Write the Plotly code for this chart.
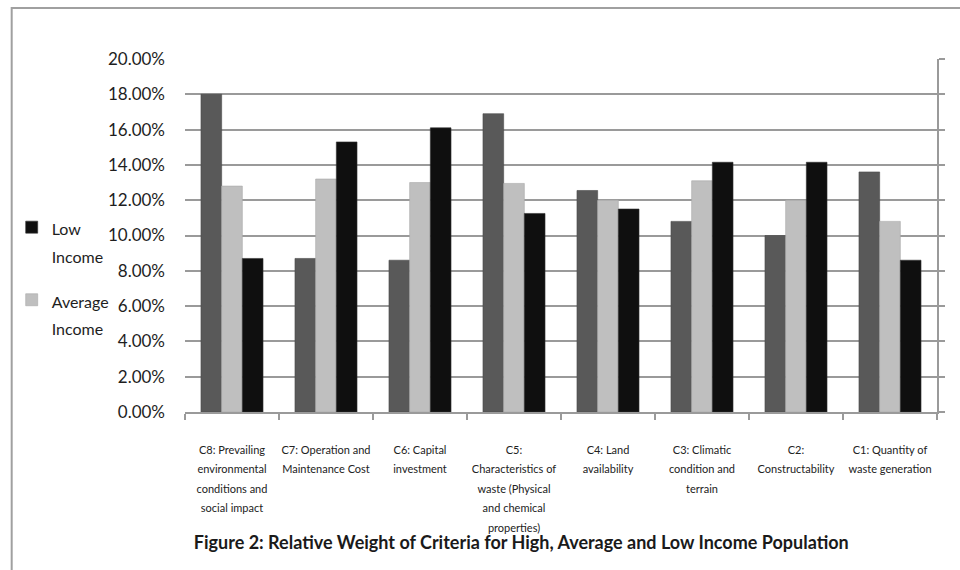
import plotly.graph_objects as go

categories = ["C8", "C7", "C6", "C5", "C4", "C3", "C2", "C1"]
tick_lines = [
    ["C8: Prevailing", "environmental", "conditions and", "social impact"],
    ["C7: Operation and", "Maintenance Cost"],
    ["C6: Capital", "investment"],
    ["C5:", "Characteristics of", "waste (Physical", "and chemical", "properties)"],
    ["C4: Land", "availability"],
    ["C3: Climatic", "condition and", "terrain"],
    ["C2:", "Constructability"],
    ["C1: Quantity of", "waste generation"],
]
legend_lines = {"low": ["Low", "Income"], "average": ["Average", "Income"]}
high_income = [0.180, 0.087, 0.086, 0.169, 0.1255, 0.108, 0.100, 0.136]
average_income = [0.128, 0.132, 0.130, 0.1295, 0.120, 0.131, 0.120, 0.108]
low_income = [0.087, 0.153, 0.161, 0.1125, 0.115, 0.1415, 0.1415, 0.086]

FONT = "Lato, sans-serif"
GRID = "#9a9a9a"


def spanned(lines, px):
    return "<br>".join("<span style='font-size:%spx'>%s</span>" % (px, s) for s in lines)


tick_labels = [spanned(lines, 11) for lines in tick_lines]

fig = go.Figure()
fig.add_trace(go.Bar(x=categories, y=high_income, name="High Income",
                     marker=dict(color="#595959", line=dict(color="#4a4a4a", width=0.6)),
                     showlegend=False))
fig.add_trace(go.Bar(x=categories, y=average_income, name=spanned(legend_lines["average"], 16),
                     marker=dict(color="#bfbfbf", line=dict(color="#a8a8a8", width=0.6)),
                     legendgroup="b", legendrank=2))
fig.add_trace(go.Bar(x=categories, y=low_income, name=spanned(legend_lines["low"], 16),
                     marker=dict(color="#0f0f0f", line=dict(color="#303030", width=0.6)),
                     legendgroup="a", legendrank=1))
fig.add_trace(go.Scatter(x=[], y=[], yaxis="y2", showlegend=False, hoverinfo="skip"))

fig.update_layout(
    width=960, height=570,
    margin=dict(l=182, r=23, t=59, b=158),
    paper_bgcolor="white", plot_bgcolor="white",
    barmode="group", bargap=0.34, bargroupgap=0,
    font=dict(family=FONT, color="#1e1e1e"),
    title=dict(text="<b>Figure 2: Relative Weight of Criteria for High, Average and Low Income Population</b>",
               x=0.543, xanchor="center", y=1 - 543 / 570, yanchor="middle", yref="container",
               font=dict(family=FONT, size=18, color="#1a1a1a")),
    xaxis=dict(tickvals=categories, ticktext=tick_labels, tickson="boundaries",
               ticks="outside", ticklen=6, tickcolor=GRID, tickwidth=1.5,
               showline=True, linecolor=GRID, linewidth=1.5, showgrid=False,
               tickfont=dict(size=15, color="#222"), ticklabelstandoff=22, tickangle=0),
    yaxis=dict(range=[0, 0.2], dtick=0.02, tickformat=".2%", showgrid=True,
               gridcolor=GRID, gridwidth=1.5, showline=False, zeroline=False,
               ticks="", tickfont=dict(size=17, color="#1e1e1e"), ticklabelstandoff=19),
    yaxis2=dict(range=[0, 0.2], dtick=0.02, overlaying="y", side="right",
                showline=True, linecolor=GRID, linewidth=1.5, ticks="outside",
                ticklen=6, tickcolor=GRID, tickwidth=1.5, showticklabels=False,
                showgrid=False, zeroline=False),
    legend=dict(x=(8 - 182) / 755, xanchor="left", y=(412 - 207) / 353, yanchor="top",
                traceorder="grouped", tracegroupgap=15, valign="top",
                font=dict(family=FONT, size=21, color="#1e1e1e"), bgcolor="rgba(0,0,0,0)"),
    shapes=[dict(type="rect", xref="paper", yref="paper",
                 x0=(8 - 182) / 755, x1=(975 - 182) / 755,
                 y0=(412 - 590) / 353, y1=(412 - 8) / 353,
                 line=dict(color="#a0a0a0", width=2), layer="below")],
)

fig.write_html("out.html")
